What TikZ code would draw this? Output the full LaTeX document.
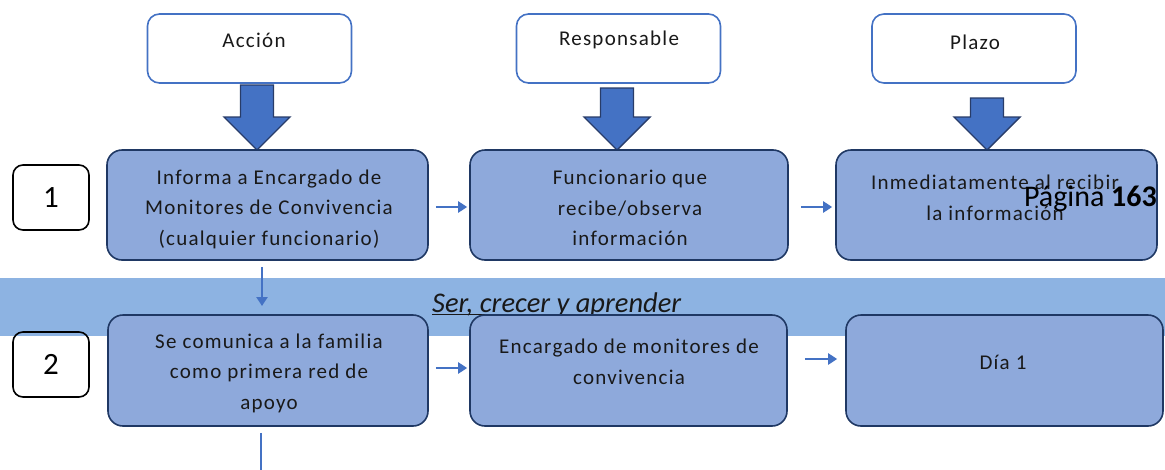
\documentclass[tikz,border=0pt]{standalone}
\usepackage{fontspec}
\setmainfont{Carlito}
\newfontfamily\wide{Carlito}[LetterSpace=6]
\usetikzlibrary{arrows.meta}

\definecolor{boxfill}{RGB}{142,169,219}
\definecolor{boxline}{RGB}{31,56,100}
\definecolor{bandblue}{RGB}{141,179,226}
\definecolor{accent}{RGB}{68,114,196}
\definecolor{arrowline}{RGB}{40,60,105}

\tikzset{
	box/.style={draw=boxline, fill=boxfill, line width=1.6pt, rounded corners=15pt, minimum height=110pt},
	headbox/.style={draw=accent, fill=white, line width=1.6pt, rounded corners=12pt, minimum width=204pt, minimum height=69pt},
	numbox/.style={draw=black, line width=1.6pt, rounded corners=10pt, minimum width=76pt, minimum height=65pt, font=\fontsize{31}{31}\selectfont},
	txt/.style={align=center, text=black!90, font=\wide\fontsize{21}{30.5}\selectfont},
	flow/.style={draw=accent, line width=2.5pt, -{Triangle[length=9pt,width=11pt]}},
	bigarrow/.style={draw=arrowline, fill=accent, line width=1.4pt}
}

\begin{document}
\begin{tikzpicture}[x=1pt, y=-1pt]
		\path[use as bounding box, clip] (0, 0) rectangle (1165, 469);

		% band across the page
		\fill[bandblue] (0, 278) rectangle (1165, 336);
		\node[anchor=base west, inner sep=0, text=black!90, font=\fontsize{28.5}{28.5}\selectfont\itshape] (motto) at (432, 312) {Ser, crecer y aprender};
		\draw[black!90, line width=1.2pt] ([yshift=-2.5pt]motto.base west) -- ([yshift=-2.5pt]motto.base east);

		% headers
		\node[headbox] (hacc) at (249.5, 48.5) {};
		\node[headbox] (hresp) at (618.5, 48.5) {};
		\node[headbox] (hplazo) at (974, 48.5) {};
		\node[txt] (hacct) at (254, 40) {Acción};
		\node[txt] (hrespt) at (619, 40) {Responsable};
		\node[txt] (hplazot) at (975, 42) {Plazo};

		\foreach \cx/\ty in {257/85, 617/88, 987/98}{
				\draw[bigarrow] (\cx-16.5, \ty) -- (\cx+16.5, \ty) -- (\cx+16.5, 117) -- (\cx+33, 117)
					-- (\cx, 150) -- (\cx-33, 117) -- (\cx-16.5, 117) -- cycle;
			}

		% step numbers
		\node[numbox] (n1) at (51, 197.5) {1};
		\node[numbox] (n2) at (51, 364.5) {2};

		% row 1
		\node[box, minimum width=321pt] (a1) at (267.5, 205) {};
		\node[box, minimum width=318pt] (r1) at (629, 205) {};
		\node[box, minimum width=321pt] (p1) at (996.5, 205) {};

		\node[txt] (a1t) at (269, 209) {Informa a Encargado de\\Monitores de Convivencia\\(cualquier funcionario)};
		\node[txt] (r1t) at (630, 208) {Funcionario que\\recibe/observa\\información};
		\node[txt] (p1t) at (995, 198) {Inmediatamente al recibir\\la información};
		\node[anchor=base east, inner sep=0, font=\fontsize{30}{30}\selectfont] (page) at (1157, 206) {Página \textbf{163}};

		\draw[flow] ([xshift=7pt, yshift=-2pt]a1.east) -- ([xshift=-2pt, yshift=-2pt]r1.west);
		\draw[flow] ([xshift=12pt, yshift=-2pt]r1.east) -- ([xshift=-3pt, yshift=-2pt]p1.west);

		\coordinate (bandin) at (262, 306);
		\draw[flow] ([xshift=-5.5pt, yshift=-6pt]a1.south) -- (bandin);

		% row 2
		\node[box, minimum width=320pt, minimum height=111pt] (a2) at (268, 370.5) {};
		\node[box, minimum width=317pt, minimum height=111pt] (r2) at (628.5, 370.5) {};
		\node[box, minimum width=317pt, minimum height=111pt] (p2) at (1004.5, 370.5) {};

		\node[txt] (a2t) at (269, 373) {Se comunica a la familia\\como primera red de\\apoyo};
		\node[txt] (r2t) at (629, 362) {Encargado de monitores de\\convivencia};
		\node[txt] (p2t) at (1003, 362) {Día 1};

		\draw[flow] ([xshift=7pt, yshift=2.5pt]a2.east) -- ([xshift=-2pt, yshift=2.5pt]r2.west);
		\draw[flow] ([xshift=17pt, yshift=11.5pt]r2.east) -- ([xshift=-8pt, yshift=11.5pt]p2.west);

		\coordinate (next) at (261, 484);
		\draw[flow] ([xshift=-7pt, yshift=-6pt]a2.south) -- (next);
	\end{tikzpicture}
\end{document}
